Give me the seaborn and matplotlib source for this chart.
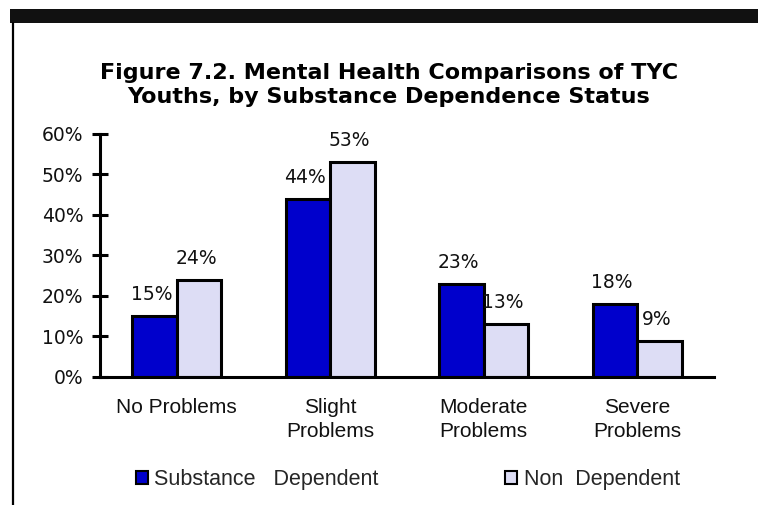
import matplotlib
matplotlib.use("Agg")
import matplotlib.pyplot as plt
from matplotlib.patches import Rectangle, Patch
from matplotlib.lines import Line2D
import seaborn as sns
import pandas as pd

# Chart data
categories = ["No Problems", "Slight\nProblems", "Moderate\nProblems", "Severe\nProblems"]
groups = ["Substance   Dependent", "Non  Dependent"]
substance_dependent = [15, 44, 23, 18]
non_dependent = [24, 53, 13, 9]
y_ticks = [0, 10, 20, 30, 40, 50, 60]
colors = ["#0000CC", "#DDDDF5"]

df = pd.DataFrame({
    "category": categories * 2,
    "group": [groups[0]] * 4 + [groups[1]] * 4,
    "value": substance_dependent + non_dependent,
})

sns.set_style("white")
plt.rcParams["font.family"] = ["DejaVu Sans"]

fig = plt.figure(figsize=(7.58, 5.05), dpi=100)
ax = fig.add_axes([0.1319, 0.2535, 0.8101, 0.4812])

sns.barplot(data=df, x="category", y="value", hue="group", order=categories,
            hue_order=groups, palette=colors, width=0.58, edgecolor="black",
            linewidth=2.2, saturation=1, legend=False, ax=ax, errorbar=None)

ax.set_xlim(-0.5, 3.5)
ax.set_ylim(0, 60)
ax.set_yticks(y_ticks)
ax.set_yticklabels([f"{t}%" for t in y_ticks], fontsize=13.5, color="#111111")
ax.set_xticks(range(len(categories)))
ax.set_xticklabels(categories, fontsize=15, family="Liberation Sans",
                   color="#111111", linespacing=1.37)
ax.set_xticks([i - 0.5 for i in range(len(categories) + 1)], minor=True)
ax.tick_params(axis="x", which="major", length=0, pad=15)
ax.tick_params(axis="x", which="minor", direction="inout", length=12, width=2.2,
               color="black")
ax.tick_params(axis="y", direction="inout", length=12, width=2.2, color="black",
               pad=6, left=True)
ax.set_xlabel("")
ax.set_ylabel("")
for side in ["top", "right"]:
    ax.spines[side].set_visible(False)
for side in ["left", "bottom"]:
    ax.spines[side].set_linewidth(2.2)
    ax.spines[side].set_color("black")

# Value labels above each bar
for container in ax.containers:
    for bar in container:
        h = bar.get_height()
        ax.annotate(f"{h:.0f}%", (bar.get_x() + bar.get_width() / 2, h),
                    xytext=(-2, 11.5), textcoords="offset points",
                    ha="center", va="baseline", fontsize=13.5, color="#111111")

fig.text(0.513, 0.832, "Figure 7.2. Mental Health Comparisons of TYC\nYouths, by Substance Dependence Status",
         ha="center", va="center", fontsize=16, fontweight="bold",
         linespacing=1.28, color="black")

# Frame decorations
fig.add_artist(Rectangle((10 / 758, 1 - 23 / 505), 1, 14 / 505,
                         transform=fig.transFigure, color="#111111", lw=0))
fig.add_artist(Line2D([13 / 758, 13 / 758], [0, 1 - 23 / 505],
                      transform=fig.transFigure, color="black", lw=1.6))

handles = [Patch(facecolor=c, edgecolor="black", linewidth=1.5) for c in colors]
fig.legend(handles, groups, loc="center", bbox_to_anchor=(0.538, 0.05), ncol=2,
           frameon=False, handlelength=0.55, handleheight=0.55, handletextpad=0.3,
           columnspacing=5.9, prop={"family": "Liberation Sans", "size": 15.5})

fig.savefig("out.png", dpi=100)
